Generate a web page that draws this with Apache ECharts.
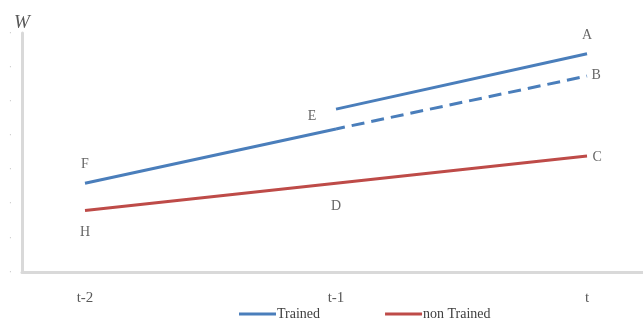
<!DOCTYPE html>
<html>
<head>
<meta charset="utf-8">
<script src="https://cdn.jsdelivr.net/npm/echarts@6/dist/echarts.min.js"></script>
<style>html,body{margin:0;padding:0;background:#fff;}#c{width:643px;height:321px;}</style>
</head>
<body>
<div id="c"></div>
<script>
// Categories (x positions 0,1,2)
const categories = ['t-2', 't-1', 't'];
// Trained: solid F->E, upper E->A, dashed continuation ->B
const trainedLower = [2.60, 4.19];        // t-2, t-1
const trainedUpper = [4.77, 6.39];        // t-1, t
const trainedDashed = [4.19, 5.74];       // t-1, t
// Non trained: H -> D -> C
const nonTrained = [1.80, 2.60, 3.40];    // t-2, t-1, t
// Annotation letters [x, y, text]
const letters = [
  [0, 3.16, 'F'], [0, 1.17, 'H'], [0.904, 4.57, 'E'], [1.0, 1.93, 'D'],
  [2.0, 6.94, 'A'], [2.036, 5.76, 'B'], [2.04, 3.37, 'C']
];
const yTicks = [0, 1, 2, 3, 4, 5, 6, 7];

const BLUE = '#4a7ebb', RED = '#be4b48';
const serif = 'Liberation Serif';

const chart = echarts.init(document.getElementById('c'), null, {renderer: 'canvas'});
chart.setOption({
  animation: false,
  backgroundColor: '#fff',
  grid: {left: 22, right: 0, top: 33, bottom: 49, containLabel: false},
  title: {text: 'W', left: 9, top: 8, textStyle: {fontFamily: serif, fontStyle: 'italic', fontWeight: 'normal', fontSize: 19, color: '#595959'}},
  legend: {
    left: 239, top: 307, padding: 0, itemWidth: 37, itemHeight: 3, itemGap: 65, icon: 'rect',
    data: ['Trained', 'non Trained'],
    textStyle: {fontFamily: serif, fontSize: 14, color: '#404040', padding: [0, 0, 0, -4]}
  },
  xAxis: {
    type: 'value', min: -0.251, max: 2.223,
    splitLine: {show: false},
    axisLine: {show: true, onZero: false, lineStyle: {color: '#d9d9d9', width: 3}},
    axisTick: {show: false},
    axisLabel: {
      customValues: [0, 1, 2],
      formatter: v => categories[Math.round(v)],
      margin: 19, fontFamily: serif, fontSize: 15, color: '#595959'
    }
  },
  yAxis: {
    type: 'value', min: 0, max: 7, interval: 1,
    splitLine: {show: false},
    axisLine: {show: true, onZero: false, lineStyle: {color: '#d9d9d9', width: 3}},
    axisTick: {show: false},
    axisLabel: {formatter: v => yTicks.includes(v) ? '·' : '', margin: 10, color: '#cccccc', fontSize: 10}
  },
  series: [
    {name: 'Trained', type: 'line', symbol: 'none', lineStyle: {color: BLUE, width: 3}, itemStyle: {color: BLUE},
     data: trainedLower.map((v, i) => [i, v])},
    {name: 'Trained', type: 'line', symbol: 'none', lineStyle: {color: BLUE, width: 3}, itemStyle: {color: BLUE},
     data: trainedUpper.map((v, i) => [i + 1, v])},
    {name: 'Trained', type: 'line', symbol: 'none', lineStyle: {color: BLUE, width: 3, type: [13, 7], dashOffset: 4}, itemStyle: {color: BLUE},
     data: trainedDashed.map((v, i) => [i + 1, v])},
    {name: 'non Trained', type: 'line', symbol: 'none', lineStyle: {color: RED, width: 3}, itemStyle: {color: RED},
     data: nonTrained.map((v, i) => [i, v])},
    {type: 'scatter', symbolSize: 0, silent: true,
     data: letters.map(d => ({value: [d[0], d[1]], label: {formatter: d[2]}})),
     label: {show: true, position: 'inside', fontFamily: serif, fontSize: 14, color: '#404040'}}
  ]
});
</script>
</body>
</html>
